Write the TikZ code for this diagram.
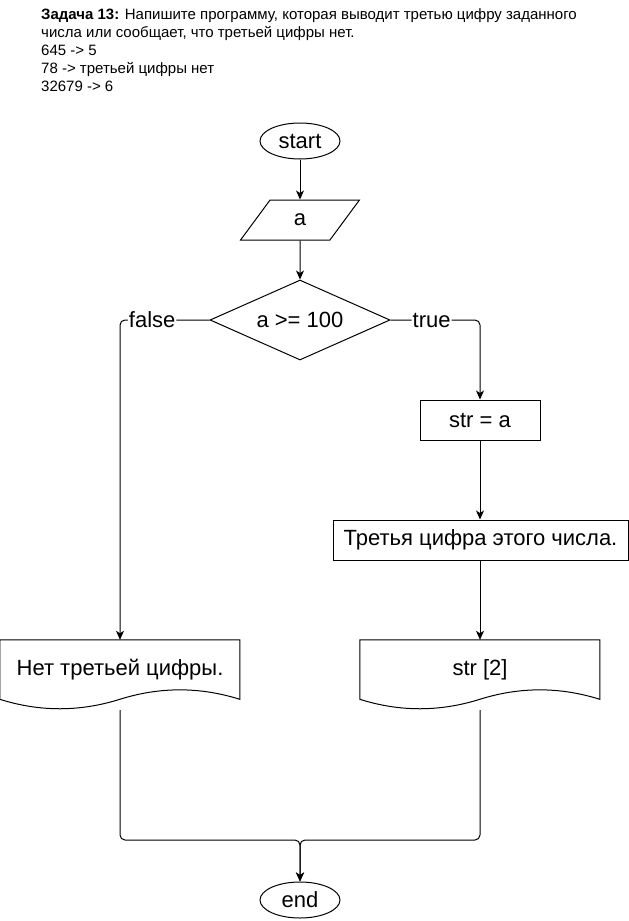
\documentclass[tikz,border=0pt]{standalone}
\usepackage{fontspec}
\setmainfont{Liberation Sans}
\usetikzlibrary{arrows.meta,shapes.geometric}
\begin{document}
\begin{tikzpicture}[x=1pt,y=-1pt,
  base/.style={draw=black,line width=1pt,font=\fontsize{22}{26}\selectfont,inner sep=0pt},
  term/.style={base,ellipse,minimum width=80pt,minimum height=36pt},
  proc/.style={base,rectangle,minimum height=40pt},
  decis/.style={base,diamond,aspect=2.25,minimum width=180pt,minimum height=80pt},
  io/.style={base,trapezium,trapezium left angle=63.4,trapezium right angle=116.6,minimum width=119pt,minimum height=40pt,trapezium stretches=true},
  docnode/.style={rectangle,minimum width=240pt,minimum height=70pt,inner sep=0pt,font=\fontsize{22}{26}\selectfont},
  arr/.style={line width=1pt,-{Stealth[length=9pt,width=8pt,inset=2.5pt]}},
  lbl/.style={fill=white,inner sep=1pt,font=\fontsize{22}{26}\selectfont},
]
\useasboundingbox (0,0) rectangle (629,921);

\node[anchor=north west,align=left,inner sep=0pt,font=\fontsize{15}{18}\selectfont] (task) at (41,8)
 {\textbf{Задача 13:} Напишите программу, которая выводит третью цифру заданного\\
  числа или сообщает, что третьей цифры нет.\\
  645 -> 5\\
  78 -> третьей цифры нет\\
  32679 -> 6};

\node[term] (start) at (300,141) {start};
\node[io] (inp) at (300,220) {a};
\node[decis] (dia) at (300,320) {a >= 100};
\node[proc,minimum width=120pt] (str) at (480,420) {str = a};
\node[proc,minimum width=295pt] (third) at (480.5,540) {Третья цифра этого числа.};
\node[docnode] (doc1) at (120,675) {\raisebox{15pt}{Нет третьей цифры.}};
\node[docnode] (doc2) at (480,675) {\raisebox{15pt}{str [2]}};
\node[term] (end) at (300,900) {end};
\coordinate (m) at (300,840);

% document outlines
\foreach \d in {doc1,doc2}{
  \draw[line width=1pt,shift={(\d.north west)}]
    (0,0) -- (240,0) -- (240,59.5)
    .. controls (200,46.9) and (160,46.9) .. (120,59.5)
    .. controls (80,72.1) and (40,72.1) .. (0,59.5) -- cycle;
}

\draw[arr] (start) -- (inp);
\draw[arr] (inp) -- (dia);
\draw[arr,rounded corners=5pt] (dia.west) -| node[lbl,pos=0.32] {false} (doc1.north);
\draw[arr,rounded corners=5pt] (dia.east) -| node[lbl,pos=0.23] {true} (str.north);
\draw[arr] (str.south) -- (str.south |- third.north);
\draw[arr] (third.south -| doc2.north) -- (doc2.north);
\draw[arr,rounded corners=5pt] (doc1.south) |- (m) -- (end.north);
\draw[arr,rounded corners=5pt] (doc2.south) |- (m) -- (end.north);
\end{tikzpicture}
\end{document}
